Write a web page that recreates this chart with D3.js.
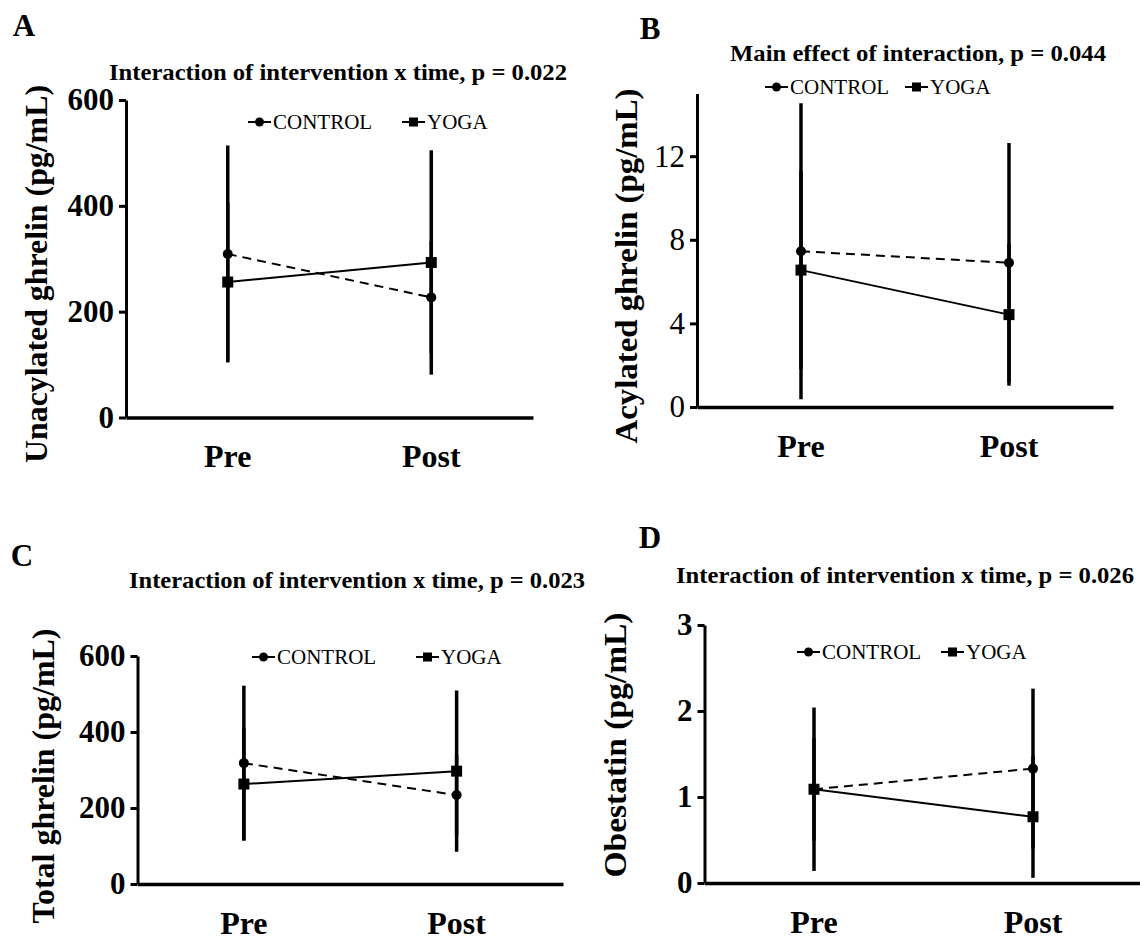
<!DOCTYPE html>
<html lang="en">
<head>
<meta charset="utf-8"/>
<title>Ghrelin and obestatin, pre vs post</title>
<script src="https://d3js.org/d3.v7.min.js"></script>
<style>
	body { margin: 0; background: #fff; }
	svg text { font-family: "Liberation Serif", "Tinos", "Times New Roman", "Nimbus Roman", "DejaVu Serif", serif; fill: #000; }
</style>
</head>
<body>
<script>
// data (mean and SD for each group)
var times = ["Pre", "Post"];
var groups = ["CONTROL", "YOGA"];

var unacylControl = [309, 227];
var unacylControlSD = [205, 106];
var unacylYoga = [256, 293];
var unacylYogaSD = [150, 212];

var acylControl = [7.45, 6.9];
var acylControlSD = [7.08, 5.73];
var acylYoga = [6.55, 4.42];
var acylYogaSD = [4.74, 3.4];

var totalControl = [318, 234];
var totalControlSD = [204, 106];
var totalYoga = [263, 297];
var totalYogaSD = [148, 212];

var obestControl = [1.09, 1.33];
var obestControlSD = [0.95, 0.93];
var obestYoga = [1.09, 0.77];
var obestYogaSD = [0.6, 0.71];

var ticksA = [0, 200, 400, 600];
var ticksB = [0, 4, 8, 12];
var ticksC = [0, 200, 400, 600];
var ticksD = [0, 1, 2, 3];

var w = 1140;
var h = 941;

var svg = d3.select("body").append("svg")
	.attr("width", w)
	.attr("height", h);

// one panel = one line chart with SD bars
function drawPanel(p) {
	var g = svg.append("g");

	var xScale = d3.scaleBand().domain(times).range([p.x0, p.x1]).padding(0);
	var yScale = d3.scaleLinear().domain([0, p.ymax]).range([p.yb, p.yt]);
	var cx = function(t) { return xScale(t) + xScale.bandwidth() / 2; };

	// y axis
	var yAxis = g.append("g")
		.attr("transform", "translate(" + p.x0 + ",0)")
		.call(d3.axisLeft(yScale).tickValues(p.ticks).tickFormat(d3.format("d"))
			.tickSize(7).tickSizeOuter(0).tickPadding(5));
	yAxis.selectAll("path, line").attr("stroke", "#000").attr("stroke-width", 3);
	yAxis.selectAll("text")
		.attr("font-size", "31px")
		.attr("font-weight", p.tickBold ? "bold" : "normal");

	// x axis
	var xAxis = g.append("g")
		.attr("transform", "translate(0," + p.yb + ")")
		.call(d3.axisBottom(xScale).tickSize(0).tickSizeOuter(0).tickPadding(27));
	xAxis.select("path").attr("stroke", "#000").attr("stroke-width", 3.5);
	xAxis.selectAll("text")
		.attr("font-size", "32px")
		.attr("font-weight", "bold");

	// error bars
	var series = [
		{name: groups[0], mean: p.control, sd: p.controlSD},
		{name: groups[1], mean: p.yoga, sd: p.yogaSD}
	];
	series.forEach(function(s) {
		g.selectAll(null)
			.data(times)
			.enter()
			.append("line")
			.attr("x1", function(t) { return cx(t); })
			.attr("x2", function(t) { return cx(t); })
			.attr("y1", function(t, i) { return yScale(s.mean[i] + s.sd[i]); })
			.attr("y2", function(t, i) { return yScale(Math.max(0, s.mean[i] - s.sd[i])); })
			.attr("stroke", "#000")
			.attr("stroke-width", 3.5);
	});

	var line = d3.line()
		.x(function(d) { return cx(d.t); })
		.y(function(d) { return yScale(d.v); });

	series.forEach(function(s, k) {
		var pts = times.map(function(t, i) { return {t: t, v: s.mean[i]}; });
		g.append("path")
			.datum(pts)
			.attr("d", line)
			.attr("fill", "none")
			.attr("stroke", "#000")
			.attr("stroke-width", 2)
			.attr("stroke-dasharray", k === 0 ? "9,6" : null);
		if (k === 0) {
			g.selectAll(null).data(pts).enter().append("circle")
				.attr("cx", function(d) { return cx(d.t); })
				.attr("cy", function(d) { return yScale(d.v); })
				.attr("r", 5)
				.attr("fill", "#000");
		} else {
			g.selectAll(null).data(pts).enter().append("rect")
				.attr("x", function(d) { return cx(d.t) - 5.5; })
				.attr("y", function(d) { return yScale(d.v) - 5.5; })
				.attr("width", 11)
				.attr("height", 11)
				.attr("fill", "#000");
		}
	});

	// legend
	var leg = g.append("g").attr("transform", "translate(0," + p.legY + ")");
	leg.append("line").attr("x1", p.legX[0]).attr("x2", p.legX[0] + 23)
		.attr("stroke", "#000").attr("stroke-width", 2);
	leg.append("circle").attr("cx", p.legX[0] + 11.5).attr("r", 4.5).attr("fill", "#000");
	leg.append("line").attr("x1", p.legX[1]).attr("x2", p.legX[1] + 23)
		.attr("stroke", "#000").attr("stroke-width", 2);
	leg.append("rect").attr("x", p.legX[1] + 7).attr("y", -4.5).attr("width", 9).attr("height", 9).attr("fill", "#000");
	leg.selectAll(null).data(groups).enter().append("text")
		.attr("x", function(d, i) { return p.legX[i] + 25; })
		.attr("dy", "0.35em")
		.attr("font-size", "21px")
		.text(function(d) { return d; });

	// panel letter, title, y label
	g.append("text")
		.attr("x", p.letter[0]).attr("y", p.letter[1])
		.attr("dy", "0.35em")
		.attr("text-anchor", "middle")
		.attr("font-size", "31px")
		.attr("font-weight", "bold")
		.text(p.name);

	g.append("text")
		.attr("x", p.title[0]).attr("y", p.title[1])
		.attr("dy", "0.35em")
		.attr("text-anchor", "middle")
		.attr("font-size", "24px")
		.attr("font-weight", "bold")
		.attr("textLength", p.titleLen)
		.attr("lengthAdjust", "spacingAndGlyphs")
		.text(p.titleText);

	g.append("text")
		.attr("transform", "translate(" + p.ylab[0] + "," + p.ylab[1] + ") rotate(-90)")
		.attr("dy", "0.35em")
		.attr("text-anchor", "middle")
		.attr("font-size", "31px")
		.attr("font-weight", "bold")
		.attr("textLength", p.ylabLen)
		.attr("lengthAdjust", "spacingAndGlyphs")
		.text(p.ylabText);
}

drawPanel({
	name: "A", titleText: "Interaction of intervention x time, p = 0.022", titleLen: 458,
	ylabText: "Unacylated ghrelin (pg/mL)", ylabLen: 378,
	control: unacylControl, controlSD: unacylControlSD, yoga: unacylYoga, yogaSD: unacylYogaSD,
	ticks: ticksA, ymax: 600, tickBold: true,
	x0: 126, x1: 533, yt: 100, yb: 417.5,
	legY: 122, legX: [248, 402],
	letter: [24, 25], title: [338, 72], ylab: [36, 274]
});

drawPanel({
	name: "B", titleText: "Main effect of interaction, p = 0.044", titleLen: 376,
	ylabText: "Acylated ghrelin (pg/mL)", ylabLen: 355,
	control: acylControl, controlSD: acylControlSD, yoga: acylYoga, yogaSD: acylYogaSD,
	ticks: ticksB, ymax: 15, tickBold: false,
	x0: 697, x1: 1113, yt: 93.5, yb: 407,
	legY: 87, legX: [765, 905],
	letter: [650, 28], title: [918, 53], ylab: [626, 266]
});

drawPanel({
	name: "C", titleText: "Interaction of intervention x time, p = 0.023", titleLen: 456,
	ylabText: "Total ghrelin (pg/mL)", ylabLen: 295,
	control: totalControl, controlSD: totalControlSD, yoga: totalYoga, yogaSD: totalYogaSD,
	ticks: ticksC, ymax: 600, tickBold: true,
	x0: 137.5, x1: 563, yt: 656, yb: 884,
	legY: 657, legX: [252, 416],
	letter: [22, 555], title: [357, 580], ylab: [43, 776]
});

drawPanel({
	name: "D", titleText: "Interaction of intervention x time, p = 0.026", titleLen: 458,
	ylabText: "Obestatin (pg/mL)", ylabLen: 265,
	control: obestControl, controlSD: obestControlSD, yoga: obestYoga, yogaSD: obestYogaSD,
	ticks: ticksD, ymax: 3, tickBold: true,
	x0: 704.5, x1: 1142.5, yt: 625, yb: 883,
	legY: 652, legX: [797, 941],
	letter: [650, 537], title: [905, 575], ylab: [615, 745]
});
</script>
</body>
</html>
